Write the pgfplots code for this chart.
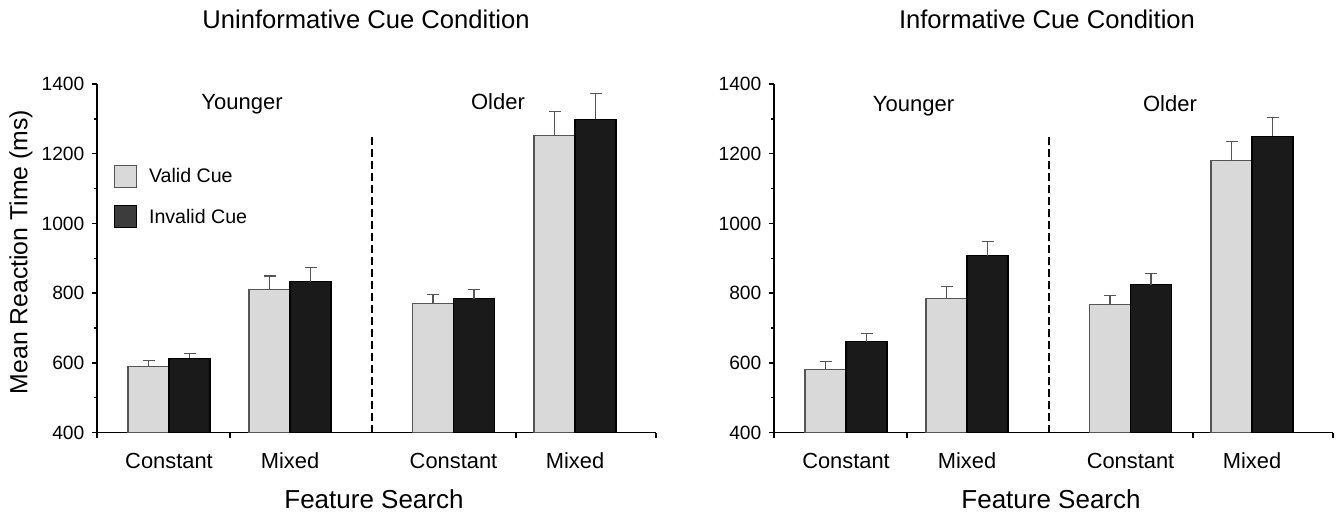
\documentclass[border=0pt]{standalone}
\usepackage{fontspec}
\setmainfont{Liberation Sans}
\usepackage{pgfplots}
\pgfplotsset{compat=1.18}
\definecolor{lightbar}{HTML}{D9D9D9}
\definecolor{darkbar}{HTML}{1A1A1A}
\definecolor{edgegray}{HTML}{555555}
\definecolor{legdark}{HTML}{3C3C3C}
\newcommand\fs[1]{\fontsize{#1}{#1}\selectfont}
\pgfplotsset{
  panel/.style={
    at={(#1)}, anchor=south west, scale only axis,
    width=419.25pt, height=261.375pt,
    xmin=0, xmax=559, ymin=400, ymax=1400,
    clip=false,
    axis x line*=bottom, axis y line*=left,
    axis line style={line width=1.1pt,-,black},
    xtick={0,133,419,559}, xticklabels={},
    ytick={400,600,...,1400}, minor y tick num=1,
    tick align=outside,
    major tick length=4pt, minor tick length=2.5pt,
    every tick/.style={black,line width=1.1pt},
    scaled ticks=false,
    /pgf/number format/assume math mode=true,
    /pgf/number format/1000 sep={},
    yticklabel style={font=\fs{14.4}, text=black, xshift=-2pt},
  },
  errstyle/.style={
    error bars/y dir=plus, error bars/y explicit,
    error bars/error bar style={line width=0.8pt, draw=edgegray},
    error bars/error mark options={rotate=90, mark size=4.5pt, line width=0.8pt, draw=edgegray}},
  % one x unit is 0.75pt; each bar is 41 units wide, the two bars of a group touch
  validbar/.style={ybar, bar width=30.75pt, bar shift=0pt,
    fill=lightbar, draw=edgegray, line width=0.8pt, errstyle, forget plot},
  invalidbar/.style={ybar, bar width=30.75pt, bar shift=0pt,
    fill=darkbar, draw=black, line width=0.8pt, errstyle, forget plot},
  divider/.style={black, line width=1pt, dash pattern=on 6pt off 3pt, no marks, forget plot},
}
\begin{document}
\begin{tikzpicture}
\path[use as bounding box] (0,0) rectangle (1002.75pt,384pt);
% ---------------- left panel ----------------
\begin{axis}[panel={72.75pt,59.625pt},
  legend style={at={(axis cs:17,1168)}, anchor=north west, draw=none, fill=none,
    inner sep=0pt, outer sep=0pt, font=\fs{14.7},
    nodes={inner sep=0pt, outer sep=0pt}, row sep=13.1pt, column sep=9pt},
  legend cell align=left,
  legend image code/.code={\draw[#1] (0pt,-8.25pt) rectangle (16.5pt,8.25pt);},
]
% Valid cue (group centres 72, 193, 356.5, 478; bars shifted by -20.5)
\addplot[validbar] coordinates {
  (51.5,590) +- (0,17)
  (172.5,810) +- (0,39)
  (336,770) +- (0,27)
  (457.5,1253) +- (0,69)
};
% Invalid cue (shifted by +20.5)
\addplot[invalidbar] coordinates {
  (92.5,613) +- (0,15)
  (213.5,832) +- (0,41)
  (377,784) +- (0,26)
  (498.5,1299) +- (0,75)
};
\addplot[divider] coordinates {(275,400) (275,1250)};
\addlegendimage{fill=lightbar, draw=edgegray, line width=0.8pt}
\addlegendentry{Valid Cue}
\addlegendimage{fill=legdark, draw=black, line width=0.8pt}
\addlegendentry{Invalid Cue}
\node[anchor=base, font=\fs{16.4}] at (axis cs:72,298) {Constant};
\node[anchor=base, font=\fs{16.4}] at (axis cs:193,298) {Mixed};
\node[anchor=base, font=\fs{16.4}] at (axis cs:356.5,298) {Constant};
\node[anchor=base, font=\fs{16.4}] at (axis cs:478,298) {Mixed};
\node[anchor=base, font=\fs{16.5}] at (axis cs:145,1328) {Younger};
\node[anchor=base, font=\fs{16.5}] at (axis cs:401,1328) {Older};
\node[anchor=base, font=\fs{19.5}] at (axis cs:277,183) {Feature Search};
\end{axis}
% ---------------- right panel ----------------
\begin{axis}[panel={580.5pt,59.625pt}]
\addplot[validbar] coordinates {
  (51.5,582) +- (0,23)
  (172.5,784) +- (0,36)
  (336,768) +- (0,25)
  (457.5,1181) +- (0,54)
};
\addplot[invalidbar] coordinates {
  (92.5,661) +- (0,23)
  (213.5,907) +- (0,40)
  (377,824) +- (0,31)
  (498.5,1250) +- (0,54)
};
\addplot[divider] coordinates {(275,400) (275,1250)};
\node[anchor=base, font=\fs{16.4}] at (axis cs:72,298) {Constant};
\node[anchor=base, font=\fs{16.4}] at (axis cs:193,298) {Mixed};
\node[anchor=base, font=\fs{16.4}] at (axis cs:356.5,298) {Constant};
\node[anchor=base, font=\fs{16.4}] at (axis cs:478,298) {Mixed};
\node[anchor=base, font=\fs{16.5}] at (axis cs:139.5,1320) {Younger};
\node[anchor=base, font=\fs{16.5}] at (axis cs:396,1320) {Older};
\node[anchor=base, font=\fs{19.5}] at (axis cs:277,183) {Feature Search};
\end{axis}
% ---------------- titles and y label ----------------
\node[font=\fs{19.2}] at (274.5pt,369.4pt) {Uninformative Cue Condition};
\node[font=\fs{19.2}] at (785.25pt,369.4pt) {Informative Cue Condition};
\node[font=\fs{18.6}, rotate=90] at (15.75pt,195pt) {Mean Reaction Time (ms)};
\end{tikzpicture}
\end{document}
